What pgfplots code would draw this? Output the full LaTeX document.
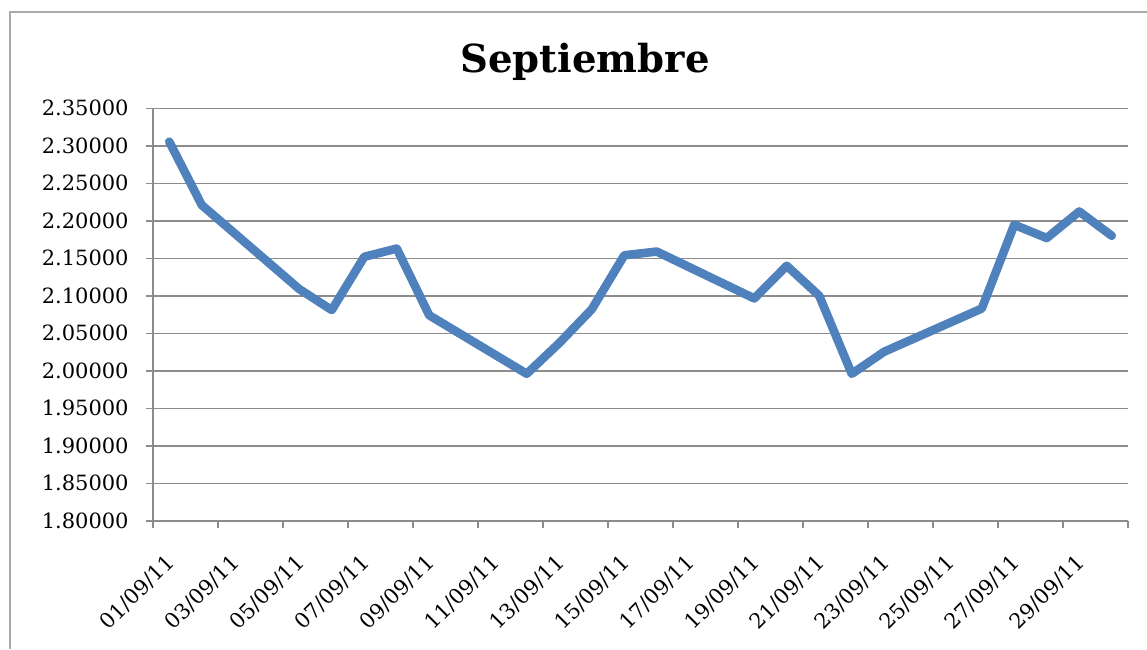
\documentclass[border=0pt]{standalone}
\usepackage{fontspec}
\setmainfont{DejaVu Serif}
\usepackage{pgfplots}
\pgfplotsset{compat=1.18}
\definecolor{linecol}{RGB}{79,129,189}
\definecolor{gridcol}{RGB}{140,140,140}
\definecolor{framecol}{RGB}{170,170,170}
\begin{document}
\begin{tikzpicture}
\useasboundingbox (0,0) rectangle (573.5pt,324.5pt);
\draw[framecol, line width=1pt] (5pt,0) -- (5pt,318.5pt) -- (573.5pt,318.5pt);
\node[anchor=base, font=\bfseries\fontsize{19.3pt}{21pt}\selectfont] at (292.5pt,288pt) {Septiembre};
\begin{axis}[
  at={(76.5pt,64.1pt)}, anchor=south west,
  scale only axis, width=487.5pt, height=206.25pt,
  xmin=0.5, xmax=30.5, ymin=1.8, ymax=2.35,
  axis x line=bottom, axis y line=left,
  axis line style={draw=gridcol, line width=0.75pt, -},
  tick align=outside, major tick length=3.5pt,
  tick style={draw=gridcol, line width=0.75pt},
  xtick={0.5,2.5,4.5,6.5,8.5,10.5,12.5,14.5,16.5,18.5,20.5,22.5,24.5,26.5,28.5,30.5},
  xticklabels={01/09/11,03/09/11,05/09/11,07/09/11,09/09/11,11/09/11,13/09/11,15/09/11,17/09/11,19/09/11,21/09/11,23/09/11,25/09/11,27/09/11,29/09/11,{}},
  ytick={1.8,1.85,1.9,1.95,2.0,2.05,2.1,2.15,2.2,2.25,2.3,2.35},
  ymajorgrids, grid style={draw=gridcol, line width=0.75pt},
  yticklabel style={anchor=east, inner sep=0pt, xshift=-8.5pt},
  xticklabel style={anchor=east, inner sep=0pt, xshift=9pt, yshift=-15.5pt, rotate=45},
  ticklabel style={font=\fontsize{10.5pt}{12pt}\selectfont},
  /pgf/number format/.cd, fixed, fixed zerofill, precision=5, assume math mode=true,
]
\addplot[linecol, line width=4.3pt, line join=round, line cap=round] coordinates {
(1,2.3055) (2,2.221) (5,2.109) (6,2.081) (7,2.152) (8,2.163) (9,2.074)
(12,1.996) (13,2.037) (14,2.082) (15,2.154) (16,2.159)
(19,2.0965) (20,2.140) (21,2.100) (22,1.996) (23,2.0255)
(26,2.083) (27,2.1947) (28,2.177) (29,2.2124) (30,2.180)
};
\end{axis}
\end{tikzpicture}
\end{document}
